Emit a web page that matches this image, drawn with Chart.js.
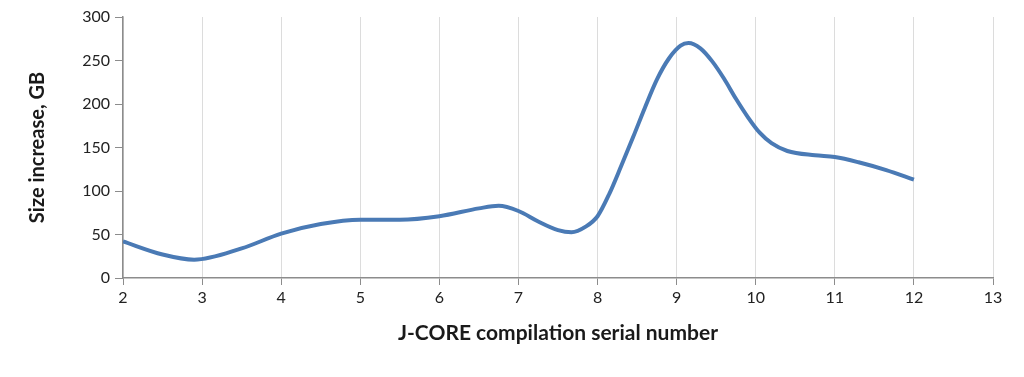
<!DOCTYPE html>
<html>
<head>
<meta charset="utf-8">
<script src="https://cdn.jsdelivr.net/npm/chart.js@4"></script>
<style>
  html, body { margin: 0; padding: 0; background: #fff; }
  #wrap { width: 1024px; height: 377px; }
</style>
</head>
<body>
<div id="wrap"><canvas id="c" width="1024" height="377"></canvas></div>
<script>
const serialNumbers = [2, 2.5, 2.9, 3.5, 4, 4.5, 5, 5.5, 6, 6.5, 6.75, 7, 7.25, 7.5, 7.67, 7.85, 8, 8.15, 8.3, 8.45, 8.6, 8.75, 8.9, 9.05, 9.15, 9.3, 9.45, 9.6, 9.75, 9.9, 10.05, 10.2, 10.4, 10.75, 11, 11.3, 11.65, 12];
const sizeIncrease  = [42, 27, 21, 34, 51, 62, 67, 67, 71, 80, 83, 77, 65, 55, 52.5, 59, 71, 97, 129, 162, 196, 228, 252, 267, 270, 264, 249, 229, 206, 185, 167, 155, 146, 141, 139, 133, 124, 113];
const xTicks = [2, 3, 4, 5, 6, 7, 8, 9, 10, 11, 12, 13];
const yTicks = [0, 50, 100, 150, 200, 250, 300];
const xTitle = 'J-CORE compilation serial number';
const yTitle = 'Size increase, GB';

const points = serialNumbers.map((x, i) => ({ x: x, y: sizeIncrease[i] }));

new Chart(document.getElementById('c'), {
  type: 'line',
  data: {
    datasets: [{
      data: points,
      borderColor: '#4a7ab5',
      borderWidth: 4,
      pointRadius: 0,
      cubicInterpolationMode: 'monotone',
      fill: false
    }]
  },
  options: {
    responsive: false,
    animation: false,
    layout: { padding: { left: 22, right: 31, top: 17, bottom: 30 } },
    plugins: { legend: { display: false }, tooltip: { enabled: false } },
    scales: {
      x: {
        type: 'linear',
        min: 2, max: 13,
        afterBuildTicks: s => { s.ticks = xTicks.map(v => ({ value: v })); },
        afterFit: s => { s.height = 69; },
        border: { color: '#8c8c8c', width: 1.5 },
        grid: { color: '#dcdcdc', tickColor: '#8c8c8c', tickLength: 7, lineWidth: 1 },
        ticks: { color: '#222', font: { family: 'Lato', size: 16 }, padding: 3 },
        title: { display: true, text: xTitle, color: '#1a1a1a', font: { family: 'Lato', size: 21, weight: 'bold' }, padding: { top: 0, bottom: 1 } }
      },
      y: {
        min: 0, max: 300,
        afterBuildTicks: s => { s.ticks = yTicks.map(v => ({ value: v })); },
        afterFit: s => { s.width = 101; },
        border: { color: '#8c8c8c', width: 1.5 },
        grid: { drawOnChartArea: false, color: '#8c8c8c', tickLength: 8 },
        ticks: { color: '#222', font: { family: 'Lato', size: 16 }, padding: 5 },
        title: { display: true, text: yTitle, color: '#1a1a1a', font: { family: 'Lato', size: 20, weight: 'bold' }, padding: { top: 4, bottom: 0 } }
      }
    }
  }
});
</script>
</body>
</html>
